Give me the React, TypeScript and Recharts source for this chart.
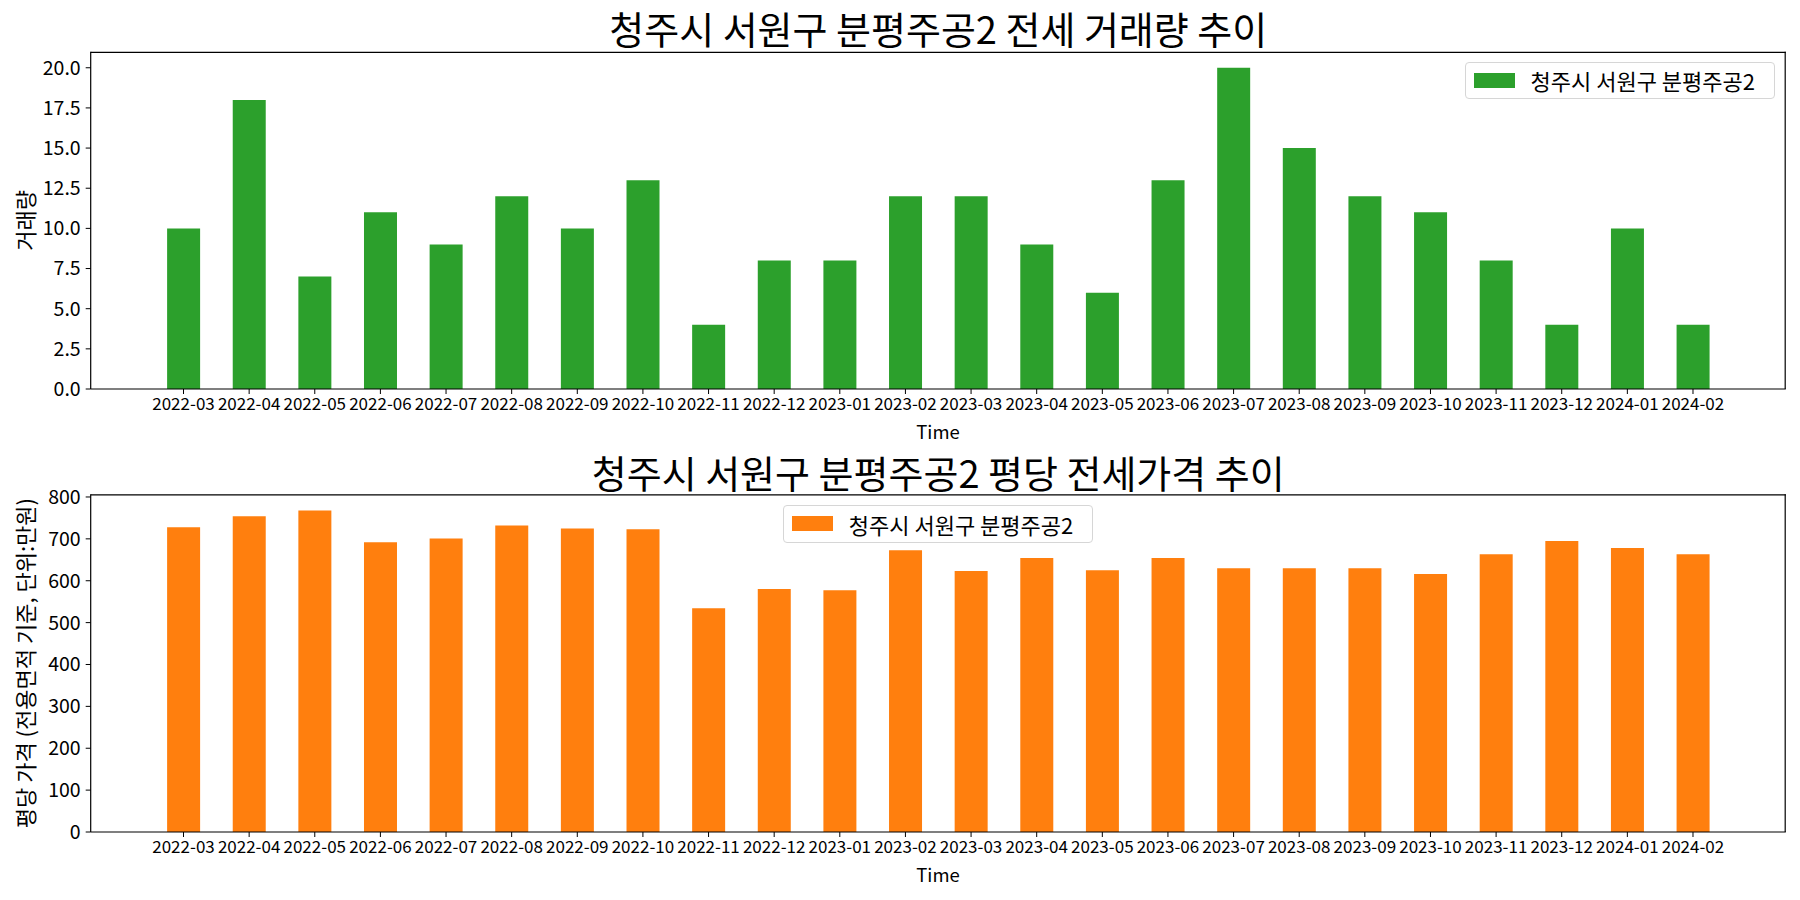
import React from 'react';
import { BarChart, Bar, XAxis, YAxis, Legend, Label, CartesianGrid } from 'recharts';

const months = ['2022-03','2022-04','2022-05','2022-06','2022-07','2022-08','2022-09','2022-10','2022-11','2022-12','2023-01','2023-02','2023-03','2023-04','2023-05','2023-06','2023-07','2023-08','2023-09','2023-10','2023-11','2023-12','2024-01','2024-02'];
const volumes = [10,18,7,11,9,12,10,13,4,8,8,12,12,9,6,13,20,15,12,11,8,4,10,4];
const prices = [728,754,768,692,701,732,725,723,534,580,577,673,623,654,625,654,630,630,630,616,663,695,678,663];
const volumeTicks = [0,2.5,5,7.5,10,12.5,15,17.5,20];
const priceTicks = [0,100,200,300,400,500,600,700,800];
const seriesName = '청주시 서원구 분평주공2';
const title1 = '청주시 서원구 분평주공2 전세 거래량 추이';
const title2 = '청주시 서원구 분평주공2 평당 전세가격 추이';
const yLabel1 = '거래량';
const yLabel2 = '평당 가격 (전용면적 기준, 단위:만원)';
const xLabel = 'Time';

const FONT = '"Noto Sans CJK KR", "Noto Sans", sans-serif';
const GREEN = '#2ca02c';
const ORANGE = '#ff7f0e';

const volumeData = months.map((m, i) => ({ month: m, value: volumes[i] }));
const priceData = months.map((m, i) => ({ month: m, value: prices[i] }));

const LegendBox = ({ color }: { color: string }) => (
  <div style={{
    boxSizing: 'border-box', width: 310, height: 37.6, border: '1px solid #d6d6d6', borderRadius: 4,
    background: 'rgba(255,255,255,0.8)', display: 'flex', alignItems: 'center', fontFamily: FONT,
  }}>
    <div style={{ width: 41, height: 15, background: color, marginLeft: 7.5, marginRight: 16 }} />
    <span style={{ fontSize: 22, color: '#000', whiteSpace: 'nowrap', lineHeight: 1 }}>{seriesName}</span>
  </div>
);

type PanelProps = {
  data: { month: string; value: number }[];
  color: string;
  ticks: number[];
  domain: [number, number];
  fmt: (v: number) => string;
  marginTop: number;
  marginBottom: number;
  yLabel: string;
  yLabelSize: number;
  legendLeft: number;
  legendTop: number;
};

const MARGIN_LEFT = 20.7;
const YAXIS_W = 70;
const MARGIN_RIGHT = 14.2;
const XAXIS_H = 30;

const Panel = (p: PanelProps) => {
  const plotTop = p.marginTop;
  const plotBottom = 450 - p.marginBottom - XAXIS_H;
  const plotRight = 1800 - MARGIN_RIGHT;
  const midY = (plotTop + plotBottom) / 2;
  return (
    <BarChart
      width={1800}
      height={450}
      data={p.data}
      margin={{ top: p.marginTop, right: MARGIN_RIGHT, bottom: p.marginBottom, left: MARGIN_LEFT }}
      barCategoryGap="25%"
    >
      <CartesianGrid horizontalPoints={[plotTop + 0.6]} verticalPoints={[plotRight - 0.6]}
        stroke="#000" strokeWidth={1.2} />
      <XAxis
        dataKey="month"
        interval={0}
        padding={{ left: 60, right: 60 }}
        height={XAXIS_H}
        tickSize={5}
        tickMargin={4}
        axisLine={{ stroke: '#000', strokeWidth: 1.2 }}
        tickLine={{ stroke: '#000' }}
        tick={{ fill: '#000', fontSize: 17, fontFamily: FONT }}
      >
        <Label
          content={() => (
            <text x={938} y={plotBottom + 42} textAnchor="middle" dominantBaseline="central"
              fontSize={18.5} fontFamily={FONT} fill="#000">{xLabel}</text>
          )}
        />
      </XAxis>
      <YAxis
        width={YAXIS_W}
        domain={p.domain}
        ticks={p.ticks}
        type="number"
        allowDataOverflow
        tickFormatter={p.fmt}
        tickSize={5}
        tickMargin={5}
        axisLine={{ stroke: '#000', strokeWidth: 1.2 }}
        tickLine={{ stroke: '#000' }}
        tick={{ fill: '#000', fontSize: 19.5, fontFamily: FONT }}
      >
        <Label
          content={() => (
            <text x={24} y={midY} transform={`rotate(-90 24 ${midY})`} textAnchor="middle"
              dominantBaseline="central" fontSize={p.yLabelSize} fontFamily={FONT} fill="#000">{p.yLabel}</text>
          )}
        />
      </YAxis>
      <Legend
        layout="horizontal"
        verticalAlign="middle"
        align="center"
        wrapperStyle={{ left: p.legendLeft, top: p.legendTop, width: 310, height: 37.6 }}
        content={() => <LegendBox color={p.color} />}
      />
      <Bar dataKey="value" name={seriesName} fill={p.color} isAnimationActive={false} />
    </BarChart>
  );
};

const titleStyle = (top: number): React.CSSProperties => ({
  position: 'absolute', left: 90.7, width: 1695.1, top, textAlign: 'center', fontFamily: FONT,
  fontSize: 38, lineHeight: '44px', height: 44, color: '#000', whiteSpace: 'nowrap',
});

export default function App() {
  return (
    <div style={{ position: 'absolute', left: 0, top: 0, width: 1800, height: 900, background: '#fff', overflow: 'hidden' }}>
      <div style={{ position: 'absolute', left: 0, top: 0 }}>
        <Panel data={volumeData} color={GREEN} ticks={volumeTicks} domain={[0, 21]}
          fmt={(v) => v.toFixed(1)} marginTop={51.7} marginBottom={31} yLabel={yLabel1} yLabelSize={22}
          legendLeft={1465} legendTop={61.7} />
      </div>
      <div style={{ position: 'absolute', left: 0, top: 450 }}>
        <Panel data={priceData} color={ORANGE} ticks={priceTicks} domain={[0, 806.4]}
          fmt={(v) => String(v)} marginTop={44.3} marginBottom={38} yLabel={yLabel2} yLabelSize={22}
          legendLeft={783.3} legendTop={55} />
      </div>
      <div style={titleStyle(6)}>{title1}</div>
      <div style={titleStyle(450)}>{title2}</div>
    </div>
  );
}
